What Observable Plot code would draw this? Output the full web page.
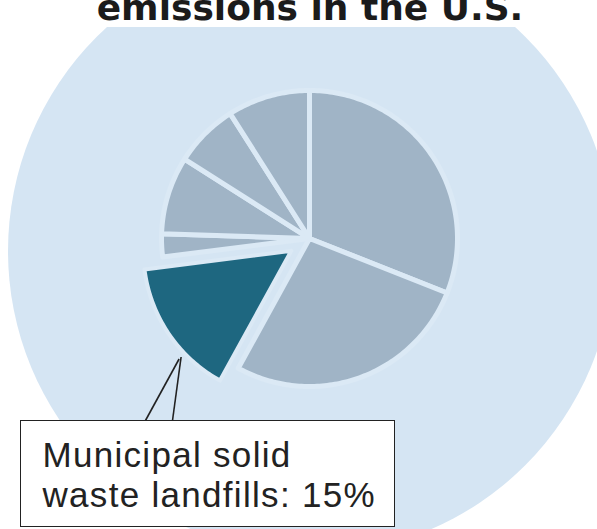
<!DOCTYPE html>
<html><head><meta charset="utf-8">
<script src="https://cdn.jsdelivr.net/npm/d3@7"></script>
<script src="https://cdn.jsdelivr.net/npm/@observablehq/plot@0.6"></script>
<style>
html,body{margin:0;padding:0;background:#fff;}
#wrap{position:relative;width:597px;height:529px;overflow:hidden;background:#fff;}
#bg{position:absolute;left:8px;top:-52px;width:606px;height:606px;border-radius:50%;background:#d5e5f3;z-index:0;}
#title{position:absolute;left:0;top:0;width:597px;height:27px;background:#fff;overflow:hidden;z-index:2;}
#title span{position:absolute;left:0;width:620px;text-align:center;top:-10px;font-family:"DejaVu Sans";font-weight:bold;font-size:36px;line-height:36px;color:#1b1b1b;white-space:nowrap;}
#chart{position:absolute;left:0;top:0;z-index:1;}
#callout{position:absolute;left:20px;top:420px;width:375px;height:107px;box-sizing:border-box;border:1.5px solid #222;background:#fff;z-index:3;padding:14.4px 0 0 21.5px;font-family:"Liberation Sans";font-size:35px;line-height:40px;letter-spacing:1.3px;color:#222;white-space:nowrap;}
</style>
</head><body>
<div id="wrap">
  <div id="bg"></div>
  <div id="title"><span></span></div>
  <div id="chart"></div>
  <div id="callout"></div>
</div>
<script>
// ---- data ----
const categories = ["Natural gas and petroleum systems", "Enteric fermentation", "Municipal solid waste landfills", "Coal mining", "Manure management", "Wastewater treatment", "Other sources"];
const shares = [31, 27, 15, 2.5, 8.5, 7, 9];
const highlighted = "Municipal solid waste landfills";
const titleText = "emissions in the U.S.";
const labelLines = ["Municipal solid", "waste landfills: 15%"];

// ---- styling / layout ----
const W = 597, H = 529;
const CX = 309, CY = 238;     // pie centre in pixels
const R = 148;                // pie radius
const EXPLODE = 22;           // offset of highlighted slice
const SEP = "#dbe9f5";
const GREY = "#a0b4c6", TEAL = "#1e6780";
const colors = categories.map(c => c === highlighted ? TEAL : GREY);

document.querySelector("#title span").textContent = titleText;
document.getElementById("callout").innerHTML = labelLines.map(s => `<div>${s}</div>`).join("");

const rows = categories.map((name, i) => ({name, share: shares[i]}));
const arcs = d3.pie().sort(null).value(d => d.share)(rows);

function slicePoints(a) {
  const mid = (a.startAngle + a.endAngle) / 2;
  const off = a.data.name === highlighted ? EXPLODE : 0;
  const ox = off * Math.sin(mid), oy = -off * Math.cos(mid);
  const pts = [{name: a.data.name, x: ox, y: oy}];
  const n = Math.max(2, Math.ceil((a.endAngle - a.startAngle) / (Math.PI / 180)));
  for (let k = 0; k <= n; ++k) {
    const t = a.startAngle + (a.endAngle - a.startAngle) * k / n;
    pts.push({name: a.data.name, x: ox + R * Math.sin(t), y: oy - R * Math.cos(t)});
  }
  pts.push({name: a.data.name, x: ox, y: oy});
  return pts;
}
const basePts = arcs.filter(a => a.data.name !== highlighted).flatMap(slicePoints);
const hiArc = arcs.find(a => a.data.name === highlighted);
const hiPts = slicePoints(hiArc);

// callout pointer: tip on the outer edge of the highlighted slice
const hmid = (hiArc.startAngle + hiArc.endAngle) / 2;
const tipA = hiArc.startAngle + 0.32 * (hiArc.endAngle - hiArc.startAngle);
const tip = {
  x: EXPLODE * Math.sin(hmid) + (R + 5) * Math.sin(tipA),
  y: -EXPLODE * Math.cos(hmid) - (R + 5) * Math.cos(tipA)
};
const boxTop = 420 - CY;
const pointer = [
  {x1: tip.x - 2, y1: tip.y + 2, x2: 145 - CX, y2: boxTop},
  {x1: tip.x, y1: tip.y, x2: 172 - CX, y2: boxTop}
];

const chart = Plot.plot({
  width: W, height: H,
  margin: 0,
  style: {background: "transparent", overflow: "visible"},
  x: {axis: null, domain: [-CX, W - CX], range: [0, W]},
  y: {axis: null, domain: [-CY, H - CY], range: [0, H]},
  color: {domain: categories, range: colors},
  marks: [
    Plot.line(basePts, {x: "x", y: "y", z: "name", fill: "name", stroke: SEP, strokeWidth: 5, strokeLinejoin: "round"}),
    Plot.line(hiPts, {x: "x", y: "y", z: "name", fill: "name", stroke: SEP, strokeWidth: 4, strokeLinejoin: "round"}),
    Plot.link(pointer, {x1: "x1", y1: "y1", x2: "x2", y2: "y2", stroke: "#222", strokeWidth: 1.6})
  ]
});
document.getElementById("chart").appendChild(chart);
</script>
</body></html>
